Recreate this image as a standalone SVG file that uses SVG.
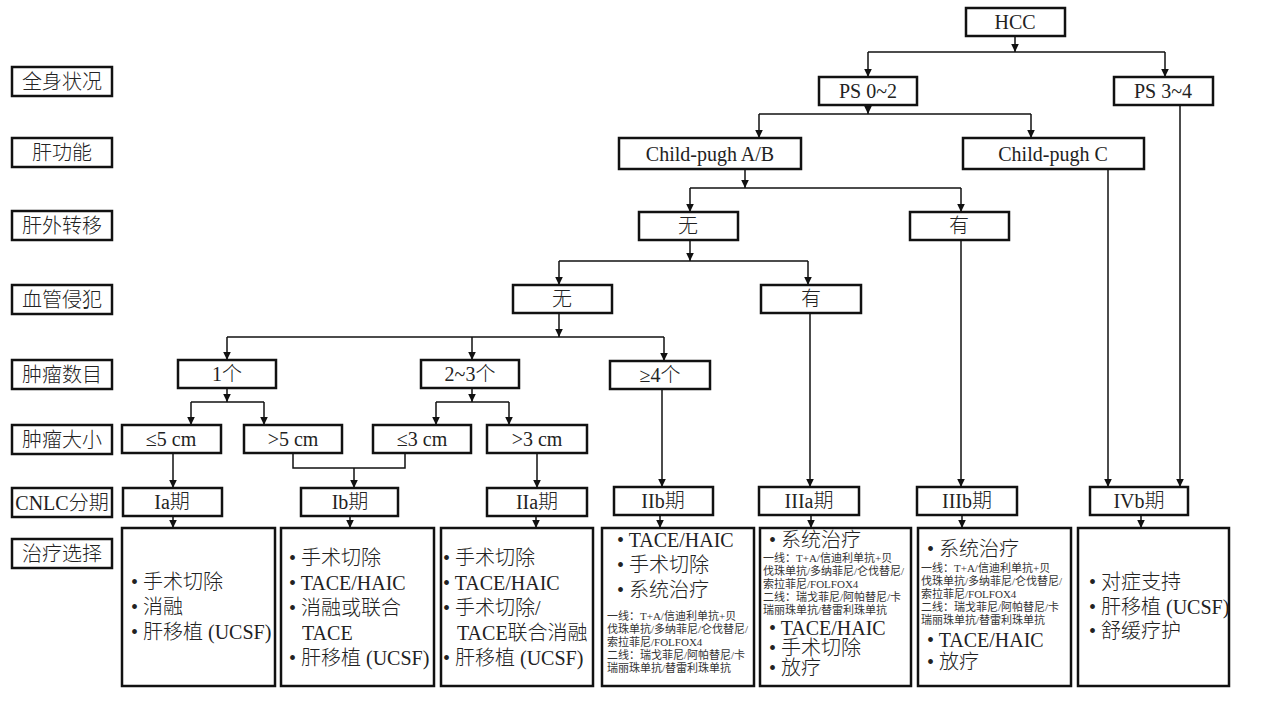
<svg xmlns="http://www.w3.org/2000/svg" width="1267" height="707" viewBox="0 0 1267 707">
<defs>
<marker id="ah" markerUnits="userSpaceOnUse" markerWidth="10" markerHeight="10" viewBox="0 0 10 10" refX="9" refY="5" orient="auto">
<path d="M1,1.2 L9,5 L1,8.8 Z" fill="#111"/>
</marker>
<style>
.box{fill:#fff;stroke:#111;stroke-width:2.5}
.t{font-family:"Liberation Serif","Noto Sans CJK SC",serif;font-size:20px;font-weight:300;fill:#222}
.c{text-anchor:middle}
.s{font-family:"Liberation Serif","Noto Sans CJK SC",serif;font-size:11px;fill:#333}
.ln{fill:none;stroke:#111;stroke-width:1.5}
.ar{fill:none;stroke:#111;stroke-width:1.5;marker-end:url(#ah)}
</style>
</defs>
<rect width="1267" height="707" fill="#fff"/>

<g id="labels">
<g id="lab1"><rect class="box" x="12" y="67" width="100" height="29"/><text class="t c" x="62" y="89">全身状况</text></g>
<g id="lab2"><rect class="box" x="12" y="138" width="100" height="29"/><text class="t c" x="62" y="160">肝功能</text></g>
<g id="lab3"><rect class="box" x="12" y="211" width="100" height="29"/><text class="t c" x="62" y="233">肝外转移</text></g>
<g id="lab4"><rect class="box" x="12" y="285" width="100" height="29"/><text class="t c" x="62" y="307">血管侵犯</text></g>
<g id="lab5"><rect class="box" x="12" y="360" width="100" height="29"/><text class="t c" x="62" y="382">肿瘤数目</text></g>
<g id="lab6"><rect class="box" x="12" y="425" width="100" height="29"/><text class="t c" x="62" y="447">肿瘤大小</text></g>
<g id="lab7"><rect class="box" x="12" y="488" width="100" height="29"/><text class="t c" x="62" y="510">CNLC分期</text></g>
<g id="lab8"><rect class="box" x="12" y="539" width="100" height="29"/><text class="t c" x="62" y="561">治疗选择</text></g>
</g>

<g id="connectors">
<path class="ar" d="M1015,36 V52"/>
<path class="ln" d="M868,52 H1165"/>
<path class="ar" d="M868,52 V77"/>
<path class="ar" d="M1165,52 V77"/>
<path class="ar" d="M868,105 V114"/>
<path class="ln" d="M759,114 H1031"/>
<path class="ar" d="M759,114 V138"/>
<path class="ar" d="M1031,114 V138"/>
<path class="ar" d="M1180,105 V487"/>
<path class="ar" d="M1108,169 V487"/>
<path class="ar" d="M745,169 V188"/>
<path class="ln" d="M690,188 H961"/>
<path class="ar" d="M690,188 V212"/>
<path class="ar" d="M961,188 V212"/>
<path class="ar" d="M961,240 V487"/>
<path class="ar" d="M690,240 V261"/>
<path class="ln" d="M559,261 H808"/>
<path class="ar" d="M559,261 V285"/>
<path class="ar" d="M808,261 V285"/>
<path class="ar" d="M810,313 V487"/>
<path class="ar" d="M559,313 V337"/>
<path class="ln" d="M227,337 H664"/>
<path class="ar" d="M227,337 V360"/>
<path class="ar" d="M472,337 V360"/>
<path class="ar" d="M664,337 V361"/>
<path class="ar" d="M662,389 V487"/>
<path class="ar" d="M227,388 V402"/>
<path class="ln" d="M191,402 H264"/>
<path class="ar" d="M191,402 V425"/>
<path class="ar" d="M264,402 V425"/>
<path class="ar" d="M472,388 V402"/>
<path class="ln" d="M436,402 H509"/>
<path class="ar" d="M436,402 V425"/>
<path class="ar" d="M509,402 V425"/>
<path class="ar" d="M173,453 V488"/>
<path class="ln" d="M293,453 V468 H405 V453"/>
<path class="ar" d="M354,468 V488"/>
<path class="ar" d="M537,453 V488"/>
<path class="ar" d="M173,516 V528"/>
<path class="ar" d="M350,516 V528"/>
<path class="ar" d="M536,516 V528"/>
<path class="ar" d="M660,515 V528"/>
<path class="ar" d="M811,515 V528"/>
<path class="ar" d="M962,515 V528"/>
<path class="ar" d="M1141,515 V528"/>
</g>

<g id="n-hcc"><rect class="box" x="966" y="8" width="99" height="28"/><text class="t c" x="1015" y="29">HCC</text></g>
<g id="n-ps02"><rect class="box" x="819" y="77" width="98" height="28"/><text class="t c" x="868" y="98">PS 0~2</text></g>
<g id="n-ps34"><rect class="box" x="1114" y="77" width="99" height="28"/><text class="t c" x="1163" y="98">PS 3~4</text></g>
<g id="n-cpab"><rect class="box" x="619" y="138" width="182" height="31"/><text class="t c" x="710" y="161">Child-pugh A/B</text></g>
<g id="n-cpc"><rect class="box" x="963" y="138" width="181" height="31"/><text class="t c" x="1053" y="161">Child-pugh C</text></g>
<g id="n-ext-no"><rect class="box" x="639" y="212" width="99" height="28"/><text class="t c" x="688" y="233">无</text></g>
<g id="n-ext-yes"><rect class="box" x="910" y="212" width="99" height="28"/><text class="t c" x="959" y="233">有</text></g>
<g id="n-vas-no"><rect class="box" x="513" y="285" width="99" height="28"/><text class="t c" x="562" y="306">无</text></g>
<g id="n-vas-yes"><rect class="box" x="761" y="285" width="100" height="28"/><text class="t c" x="811" y="306">有</text></g>
<g id="n-n1"><rect class="box" x="178" y="360" width="98" height="28"/><text class="t c" x="227" y="381">1个</text></g>
<g id="n-n23"><rect class="box" x="421" y="360" width="98" height="28"/><text class="t c" x="470" y="381">2~3个</text></g>
<g id="n-n4"><rect class="box" x="610" y="361" width="100" height="28"/><text class="t c" x="660" y="382">≥4个</text></g>
<g id="n-s5l"><rect class="box" x="122" y="425" width="99" height="28"/><text class="t c" x="171" y="446">≤5 cm</text></g>
<g id="n-s5g"><rect class="box" x="244" y="425" width="98" height="28"/><text class="t c" x="293" y="446">&gt;5 cm</text></g>
<g id="n-s3l"><rect class="box" x="373" y="425" width="98" height="28"/><text class="t c" x="422" y="446">≤3 cm</text></g>
<g id="n-s3g"><rect class="box" x="487" y="425" width="100" height="28"/><text class="t c" x="537" y="446">&gt;3 cm</text></g>

<g id="st-ia"><rect class="box" x="123" y="488" width="99" height="28"/><text class="t c" x="172" y="509">Ia期</text></g>
<g id="st-ib"><rect class="box" x="301" y="488" width="97" height="28"/><text class="t c" x="350" y="509">Ib期</text></g>
<g id="st-iia"><rect class="box" x="487" y="488" width="100" height="28"/><text class="t c" x="537" y="509">IIa期</text></g>
<g id="st-iib"><rect class="box" x="614" y="487" width="99" height="28"/><text class="t c" x="663" y="508">IIb期</text></g>
<g id="st-iiia"><rect class="box" x="759" y="487" width="100" height="28"/><text class="t c" x="809" y="508">IIIa期</text></g>
<g id="st-iiib"><rect class="box" x="917" y="487" width="100" height="28"/><text class="t c" x="967" y="508">IIIb期</text></g>
<g id="st-ivb"><rect class="box" x="1090" y="487" width="98" height="28"/><text class="t c" x="1139" y="508">IVb期</text></g>

<g id="tx-ia"><rect class="box" x="122" y="528" width="153" height="158"/>
<text class="t" x="131" y="589">• 手术切除</text>
<text class="t" x="131" y="614">• 消融</text>
<text class="t" x="131" y="639">• 肝移植 (UCSF)</text>
</g>
<g id="tx-ib"><rect class="box" x="281" y="528" width="153" height="158"/>
<text class="t" x="289" y="565">• 手术切除</text>
<text class="t" x="289" y="590">• TACE/HAIC</text>
<text class="t" x="289" y="615">• 消融或联合</text>
<text class="t" x="302" y="640">TACE</text>
<text class="t" x="289" y="665">• 肝移植 (UCSF)</text>
</g>
<g id="tx-iia"><rect class="box" x="441" y="528" width="152" height="158"/>
<text class="t" x="443" y="565">• 手术切除</text>
<text class="t" x="443" y="590">• TACE/HAIC</text>
<text class="t" x="443" y="615">• 手术切除/</text>
<text class="t" x="457" y="640">TACE联合消融</text>
<text class="t" x="443" y="665">• 肝移植 (UCSF)</text>
</g>
<g id="tx-iib"><rect class="box" x="602" y="528" width="152" height="158"/>
<text class="t" x="617" y="547">• TACE/HAIC</text>
<text class="t" x="617" y="572">• 手术切除</text>
<text class="t" x="617" y="597">• 系统治疗</text>
<text class="s" x="607" y="620">一线：T+A/信迪利单抗+贝</text>
<text class="s" x="607" y="633">伐珠单抗/多纳菲尼/仑伐替尼/</text>
<text class="s" x="607" y="646">索拉菲尼/FOLFOX4</text>
<text class="s" x="607" y="659">二线：瑞戈菲尼/阿帕替尼/卡</text>
<text class="s" x="607" y="672">瑞丽珠单抗/替雷利珠单抗</text>
</g>
<g id="tx-iiia"><rect class="box" x="760" y="528" width="151" height="158"/>
<text class="t" x="769" y="547">• 系统治疗</text>
<text class="s" x="763" y="562">一线：T+A/信迪利单抗+贝</text>
<text class="s" x="763" y="575">伐珠单抗/多纳菲尼/仑伐替尼/</text>
<text class="s" x="763" y="588">索拉菲尼/FOLFOX4</text>
<text class="s" x="763" y="601">二线：瑞戈菲尼/阿帕替尼/卡</text>
<text class="s" x="763" y="614">瑞丽珠单抗/替雷利珠单抗</text>
<text class="t" x="769" y="635">• TACE/HAIC</text>
<text class="t" x="769" y="655">• 手术切除</text>
<text class="t" x="769" y="675">• 放疗</text>
</g>
<g id="tx-iiib"><rect class="box" x="918" y="528" width="153" height="158"/>
<text class="t" x="927" y="556">• 系统治疗</text>
<text class="s" x="921" y="572">一线：T+A/信迪利单抗+贝</text>
<text class="s" x="921" y="585">伐珠单抗/多纳菲尼/仑伐替尼/</text>
<text class="s" x="921" y="598">索拉菲尼/FOLFOX4</text>
<text class="s" x="921" y="611">二线：瑞戈菲尼/阿帕替尼/卡</text>
<text class="s" x="921" y="624">瑞丽珠单抗/替雷利珠单抗</text>
<text class="t" x="927" y="647">• TACE/HAIC</text>
<text class="t" x="927" y="669">• 放疗</text>
</g>
<g id="tx-ivb"><rect class="box" x="1078" y="528" width="151" height="158"/>
<text class="t" x="1089" y="589">• 对症支持</text>
<text class="t" x="1089" y="614">• 肝移植 (UCSF)</text>
<text class="t" x="1089" y="638">• 舒缓疗护</text>
</g>
</svg>
